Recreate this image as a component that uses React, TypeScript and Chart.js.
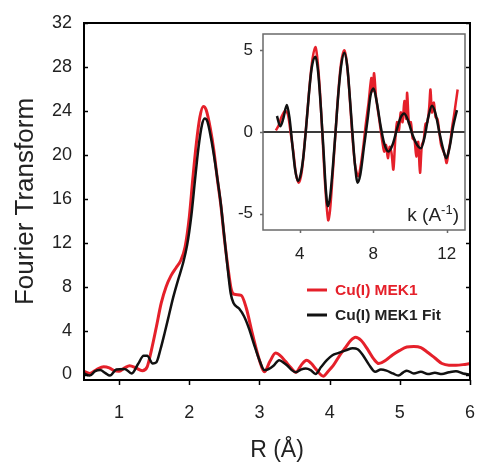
import React, { useEffect, useRef } from 'react';
import { Chart, registerables } from 'chart.js';

Chart.register(...registerables);

// ---------- Data ----------
const seriesLabels = ['Cu(I) MEK1', 'Cu(I) MEK1 Fit'];
const seriesColors = ['#e5202a', '#111111'];

// Main plot: Fourier transform vs R (Å)
const rRed = [0.5, 0.58, 0.68, 0.78, 0.86, 0.93, 1.0, 1.08, 1.15, 1.24, 1.33, 1.4, 1.46, 1.53, 1.6, 1.67, 1.74, 1.81, 1.88, 1.94, 2.0, 2.05, 2.1, 2.15, 2.2, 2.24, 2.3, 2.35, 2.4, 2.45, 2.5, 2.55, 2.6, 2.64, 2.74, 2.81, 2.9, 3.0, 3.07, 3.15, 3.23, 3.3, 3.37, 3.45, 3.52, 3.6, 3.67, 3.74, 3.81, 3.91, 3.98, 4.05, 4.15, 4.23, 4.3, 4.37, 4.45, 4.55, 4.63, 4.7, 4.8, 4.9, 5.0, 5.1, 5.2, 5.3, 5.4, 5.5, 5.6, 5.7, 5.8, 5.9, 6.0];
const ftRed = [0.3, 0.1, 0.45, 0.7, 0.6, 0.35, 0.3, 0.6, 0.8, 0.6, 0.35, 0.7, 2.2, 4.3, 6.5, 8.0, 9.0, 9.7, 10.4, 11.6, 14.3, 17.8, 21.0, 23.4, 24.4, 24.1, 22.4, 20.4, 17.8, 15.4, 12.4, 9.8, 7.7, 7.3, 7.2, 6.1, 3.7, 1.3, 0.25, 1.2, 1.95, 1.7, 1.2, 0.6, 0.2, 0.9, 1.3, 1.0, 0.45, -0.15, 0.3, 0.8, 1.8, 2.5, 3.1, 3.4, 3.1, 2.2, 1.4, 1.0, 1.3, 1.8, 2.2, 2.5, 2.55, 2.45, 2.0, 1.5, 1.0, 0.85, 0.85, 0.9, 1.0];

const rFit = [0.5, 0.58, 0.66, 0.73, 0.8, 0.87, 0.96, 1.08, 1.18, 1.27, 1.35, 1.4, 1.48, 1.53, 1.59, 1.65, 1.71, 1.77, 1.84, 1.91, 1.97, 2.03, 2.08, 2.13, 2.18, 2.22, 2.26, 2.31, 2.36, 2.41, 2.45, 2.5, 2.55, 2.59, 2.63, 2.71, 2.78, 2.85, 2.92, 3.0, 3.07, 3.13, 3.2, 3.28, 3.34, 3.4, 3.46, 3.52, 3.59, 3.66, 3.73, 3.8, 3.88, 3.96, 4.04, 4.12, 4.23, 4.33, 4.4, 4.47, 4.56, 4.65, 4.73, 4.81, 4.9, 4.98, 5.05, 5.1, 5.2, 5.3, 5.4, 5.5, 5.6, 5.7, 5.8, 5.9, 6.0];
const ftFit = [0.1, -0.1, 0.3, 0.4, 0.15, -0.1, 0.45, 0.5, 0.1, 0.95, 1.7, 1.7, 1.0, 1.1, 2.3, 3.8, 5.4, 7.0, 8.6, 10.1, 11.8, 14.5, 17.6, 20.6, 22.7, 23.3, 23.0, 21.5, 19.6, 17.4, 15.5, 12.5, 9.5, 7.4, 6.5, 6.0, 5.3, 4.2, 2.8, 1.3, 0.4, 0.5, 0.8, 1.3, 1.1, 0.8, 0.4, 0.2, 0.45, 0.55, 0.4, 0.05, 0.7, 1.3, 1.75, 1.95, 2.2, 2.4, 2.3, 1.8, 0.9, 0.25, 0.45, 0.35, 0.1, -0.1, 0.2, 0.35, 0.1, 0.25, 0.05, 0.15, 0.05, 0.2, 0.3, 0.1, 0.0];

const mainXTicks = [1, 2, 3, 4, 5, 6];
const mainYTicks = [0, 4, 8, 12, 16, 20, 24, 28, 32];

// Inset: EXAFS chi(k) vs k
const kRed = [2.7, 2.85, 3.0, 3.2, 3.35, 3.5, 3.65, 3.8, 3.95, 4.1, 4.25, 4.4, 4.55, 4.7, 4.85, 4.95, 5.1, 5.25, 5.4, 5.55, 5.65, 5.8, 5.95, 6.1, 6.25, 6.42, 6.55, 6.7, 6.85, 7.0, 7.1, 7.2, 7.3, 7.45, 7.6, 7.75, 7.9, 7.98, 8.05, 8.15, 8.3, 8.4, 8.5, 8.6, 8.7, 8.8, 8.9, 9.0, 9.1, 9.2, 9.3, 9.4, 9.5, 9.6, 9.7, 9.8, 9.85, 9.95, 10.05, 10.15, 10.25, 10.35, 10.45, 10.55, 10.65, 10.75, 10.85, 10.95, 11.05, 11.12, 11.2, 11.3, 11.4, 11.5, 11.6, 11.7, 11.8, 11.9, 12.0, 12.1, 12.2, 12.3, 12.4, 12.5, 12.6];
const chiRed = [0.1, 0.4, 0.9, 1.3, 1.1, 0.0, -1.2, -2.6, -3.1, -2.5, -0.9, 1.0, 3.0, 4.5, 5.2, 4.6, 2.5, -0.5, -3.5, -5.4, -4.8, -2.5, 0.0, 2.4, 4.2, 5.0, 4.4, 2.5, 0.0, -1.9, -2.5, -2.7, -2.2, -1.0, 0.5, 1.8, 3.3, 2.5, 3.6, 2.2, 1.0, 0.2, -0.6, -1.2, -0.8, -1.6, -0.9, -1.3, -2.3, -0.5, 0.6, 0.1, 1.2, 0.6, 1.9, 0.8, 2.4, 0.5, 0.6, -0.4, -0.5, -1.5, -0.6, -2.5, -0.8, -0.5, 0.5, 0.6, 1.5, 2.6, 1.2, 1.8, 0.9, 0.8, 0.0, -0.8, -1.1, -1.4, -1.9, -1.2, -0.6, 0.3, 1.0, 1.8, 2.6];

const kFit = [2.76, 2.94, 3.1, 3.3, 3.45, 3.6, 3.75, 3.9, 4.05, 4.2, 4.35, 4.5, 4.65, 4.86, 5.0, 5.15, 5.3, 5.42, 5.53, 5.65, 5.8, 5.95, 6.1, 6.25, 6.43, 6.6, 6.75, 6.9, 7.0, 7.15, 7.3, 7.5, 7.7, 7.85, 8.02, 8.2, 8.4, 8.6, 8.83, 9.05, 9.3, 9.5, 9.69, 9.9, 10.15, 10.4, 10.6, 10.8, 11.0, 11.2, 11.4, 11.6, 11.8, 11.98, 12.15, 12.35, 12.56];
const chiFit = [0.98, 0.35, 0.8, 1.65, 0.8, -0.8, -2.3, -3.0, -2.6, -1.5, 0.3, 2.3, 3.9, 4.6, 3.7, 1.5, -1.2, -3.5, -4.55, -4.0, -2.2, 0.0, 2.3, 4.0, 4.85, 3.9, 1.8, -0.5, -1.9, -3.1, -2.6, -0.9, 0.8, 2.2, 2.66, 1.8, 0.4, -0.7, -1.2, -0.8, 0.2, 0.9, 1.14, 0.7, -0.2, -0.8, -1.0, -0.3, 0.9, 1.6, 1.1, 0.0, -1.0, -1.6, -1.0, 0.3, 1.34];

const insetXTicks = [4, 8, 12];
const insetYTicks = [-5, 0, 5];

// ---------- Styling ----------
const FONT = '"Liberation Sans", Arial, Helvetica, sans-serif';
const TEXT = '#222222';

const toXY = (xs: number[], ys: number[]) => xs.map((x, i) => ({ x, y: ys[i] }));

export default function App() {
  const mainRef = useRef<HTMLCanvasElement | null>(null);
  const insetRef = useRef<HTMLCanvasElement | null>(null);

  useEffect(() => {
    if (!mainRef.current || !insetRef.current) return;

    const mainPlugin = {
      id: 'mainDecor',
      afterDraw(chart: any) {
        const { ctx, chartArea } = chart;
        const { left, right, top, bottom } = chartArea;
        const xs = chart.scales.x;
        const ys = chart.scales.y;
        ctx.save();
        ctx.strokeStyle = '#000';
        ctx.lineWidth = 2;
        ctx.strokeRect(left, top, right - left, bottom - top);
        ctx.lineWidth = 1.5;
        ctx.beginPath();
        mainYTicks.forEach((v) => {
          const y = Math.round(ys.getPixelForValue(v)) + 0.5;
          ctx.moveTo(left, y);
          ctx.lineTo(left + 4, y);
          ctx.moveTo(right, y);
          ctx.lineTo(right - 4, y);
        });
        mainXTicks.forEach((v) => {
          const x = Math.round(xs.getPixelForValue(v)) + 0.5;
          ctx.moveTo(x, bottom);
          ctx.lineTo(x, bottom + 5);
        });
        ctx.stroke();

        // legend
        const items = [
          { label: seriesLabels[0], color: seriesColors[0], text: seriesColors[0], y: 290 },
          { label: seriesLabels[1], color: seriesColors[1], text: TEXT, y: 315 },
        ];
        items.forEach((it) => {
          ctx.strokeStyle = it.color;
          ctx.lineWidth = 3;
          ctx.beginPath();
          ctx.moveTo(307, it.y);
          ctx.lineTo(327, it.y);
          ctx.stroke();
          ctx.fillStyle = it.text;
          ctx.font = `bold 15.5px ${FONT}`;
          ctx.textBaseline = 'middle';
          ctx.textAlign = 'left';
          ctx.fillText(it.label, 335, it.y + 1);
        });
        ctx.restore();
      },
    };

    const mainChart = new Chart(mainRef.current, {
      type: 'line',
      data: {
        datasets: [
          {
            label: seriesLabels[0],
            data: toXY(rRed, ftRed),
            borderColor: seriesColors[0],
            borderWidth: 3,
            pointRadius: 0,
            cubicInterpolationMode: 'monotone',
            fill: false,
            order: 2,
          },
          {
            label: seriesLabels[1],
            data: toXY(rFit, ftFit),
            borderColor: seriesColors[1],
            borderWidth: 2.5,
            pointRadius: 0,
            cubicInterpolationMode: 'monotone',
            fill: false,
            order: 1,
          },
        ],
      },
      options: {
        animation: false,
        responsive: false,
        maintainAspectRatio: false,
        events: [],
        layout: { padding: { left: 0, right: 11, top: 23, bottom: 0 } },
        plugins: { legend: { display: false }, tooltip: { enabled: false } },
        scales: {
          x: {
            type: 'linear',
            min: 0.5,
            max: 6,
            grid: { display: false, drawTicks: false },
            border: { display: false },
            afterBuildTicks: (s: any) => {
              s.ticks = mainXTicks.map((v) => ({ value: v }));
            },
            afterFit: (s: any) => {
              s.height = 85;
              s.paddingLeft = 0;
              s.paddingRight = 0;
            },
            ticks: {
              font: { family: FONT, size: 18 },
              color: TEXT,
              padding: 22,
              maxRotation: 0,
              autoSkip: false,
            },
            title: {
              display: true,
              text: 'R (Å)',
              font: { family: FONT, size: 23 },
              color: TEXT,
              padding: { top: 0, bottom: 1 },
            },
          },
          y: {
            type: 'linear',
            min: -0.5,
            max: 32,
            grid: { display: false, drawTicks: false },
            border: { display: false },
            afterBuildTicks: (s: any) => {
              s.ticks = mainYTicks.map((v) => ({ value: v }));
            },
            afterFit: (s: any) => {
              s.width = 84;
              s.paddingTop = 0;
              s.paddingBottom = 0;
            },
            ticks: {
              font: { family: FONT, size: 18 },
              color: TEXT,
              padding: 12,
              autoSkip: false,
            },
            title: {
              display: true,
              text: 'Fourier Transform',
              font: { family: FONT, size: 26 },
              color: TEXT,
              padding: { top: 10, bottom: 0 },
            },
          },
        },
      },
      plugins: [mainPlugin],
    } as any);

    const insetPlugin = {
      id: 'insetDecor',
      beforeDatasetsDraw(chart: any) {
        const { ctx, chartArea } = chart;
        const { left, right, top, bottom } = chartArea;
        const ys = chart.scales.y;
        ctx.save();
        ctx.fillStyle = '#fff';
        ctx.fillRect(left, top, right - left, bottom - top);
        const y0 = ys.getPixelForValue(0);
        ctx.strokeStyle = '#3a3a3a';
        ctx.lineWidth = 2;
        ctx.beginPath();
        ctx.moveTo(left, y0);
        ctx.lineTo(right, y0);
        ctx.stroke();
        ctx.restore();
      },
      afterDraw(chart: any) {
        const { ctx, chartArea } = chart;
        const { left, right, top, bottom } = chartArea;
        const xs = chart.scales.x;
        const ys = chart.scales.y;
        ctx.save();
        ctx.strokeStyle = '#6a6a6a';
        ctx.lineWidth = 1.5;
        ctx.strokeRect(left, top, right - left, bottom - top);
        ctx.beginPath();
        insetYTicks.forEach((v) => {
          const y = Math.round(ys.getPixelForValue(v)) + 0.5;
          ctx.moveTo(left, y);
          ctx.lineTo(left - 3, y);
        });
        insetXTicks.forEach((v) => {
          const x = Math.round(xs.getPixelForValue(v)) + 0.5;
          ctx.moveTo(x, bottom);
          ctx.lineTo(x, bottom + 3);
        });
        ctx.stroke();

        // axis label inside the inset: k (A^-1)
        const base = bottom - 9;
        const mainFont = `19px ${FONT}`;
        const supFont = `13px ${FONT}`;
        ctx.fillStyle = TEXT;
        ctx.textBaseline = 'alphabetic';
        ctx.textAlign = 'left';
        ctx.font = mainFont;
        const w1 = ctx.measureText('k (A').width;
        const w3 = ctx.measureText(')').width;
        ctx.font = supFont;
        const w2 = ctx.measureText('-1').width;
        let x = right - 6 - (w1 + w2 + w3);
        ctx.font = mainFont;
        ctx.fillText('k (A', x, base);
        x += w1;
        ctx.font = supFont;
        ctx.fillText('-1', x, base - 7);
        x += w2;
        ctx.font = mainFont;
        ctx.fillText(')', x, base);
        ctx.restore();
      },
    };

    const insetChart = new Chart(insetRef.current, {
      type: 'line',
      data: {
        datasets: [
          {
            label: seriesLabels[0],
            data: toXY(kRed, chiRed),
            borderColor: seriesColors[0],
            borderWidth: 2.5,
            pointRadius: 0,
            tension: 0.3,
            fill: false,
            order: 2,
          },
          {
            label: seriesLabels[1],
            data: toXY(kFit, chiFit),
            borderColor: seriesColors[1],
            borderWidth: 2.5,
            pointRadius: 0,
            cubicInterpolationMode: 'monotone',
            fill: false,
            order: 1,
          },
        ],
      },
      options: {
        animation: false,
        responsive: false,
        maintainAspectRatio: false,
        events: [],
        layout: { padding: { left: 0, right: 16, top: 9, bottom: 0 } },
        plugins: { legend: { display: false }, tooltip: { enabled: false } },
        scales: {
          x: {
            type: 'linear',
            min: 2,
            max: 13,
            grid: { display: false, drawTicks: false },
            border: { display: false },
            afterBuildTicks: (s: any) => {
              s.ticks = insetXTicks.map((v) => ({ value: v }));
            },
            afterFit: (s: any) => {
              s.height = 40;
              s.paddingLeft = 0;
              s.paddingRight = 0;
            },
            ticks: {
              font: { family: FONT, size: 17 },
              color: TEXT,
              padding: 14,
              maxRotation: 0,
              autoSkip: false,
            },
          },
          y: {
            type: 'linear',
            min: -6,
            max: 6,
            grid: { display: false, drawTicks: false },
            border: { display: false },
            afterBuildTicks: (s: any) => {
              s.ticks = insetYTicks.map((v) => ({ value: v }));
            },
            afterFit: (s: any) => {
              s.width = 38;
              s.paddingTop = 0;
              s.paddingBottom = 0;
            },
            ticks: {
              font: { family: FONT, size: 17 },
              color: TEXT,
              padding: 10,
              autoSkip: false,
            },
          },
        },
      },
      plugins: [insetPlugin],
    } as any);

    return () => {
      mainChart.destroy();
      insetChart.destroy();
    };
  }, []);

  return (
    <div
      style={{
        position: 'fixed',
        left: 0,
        top: 0,
        width: 481,
        height: 465,
        background: '#fff',
        overflow: 'hidden',
      }}
    >
      <canvas
        ref={mainRef}
        width={481}
        height={465}
        style={{ position: 'absolute', left: 0, top: 0, width: 481, height: 465 }}
      />
      <canvas
        ref={insetRef}
        width={256}
        height={245}
        style={{ position: 'absolute', left: 225, top: 25, width: 256, height: 245 }}
      />
    </div>
  );
}
